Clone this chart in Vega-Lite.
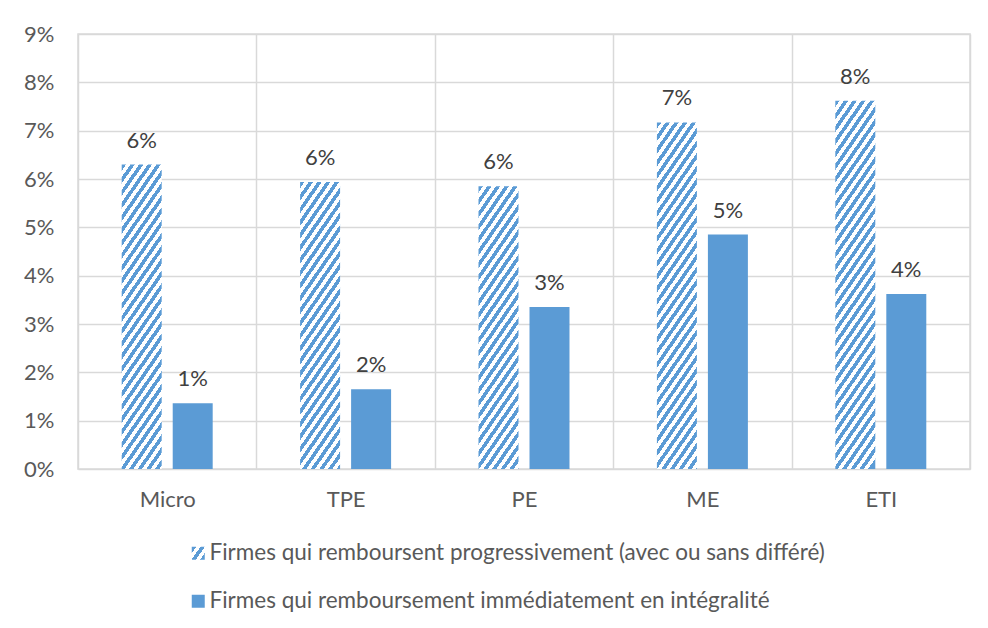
{
  "$schema": "https://vega.github.io/schema/vega-lite/v6.json",
  "width": 892,
  "height": 435,
  "autosize": {"type": "none"},
  "padding": {"left": 78, "top": 34, "right": 18, "bottom": 159},
  "background": "white",
  "data": {"values": [
    {"cat": "Micro", "serie": "Firmes qui remboursent progressivement (avec ou sans différé)", "value": 0.063},
    {"cat": "Micro", "serie": "Firmes qui remboursement immédiatement en intégralité", "value": 0.0136},
    {"cat": "TPE", "serie": "Firmes qui remboursent progressivement (avec ou sans différé)", "value": 0.0594},
    {"cat": "TPE", "serie": "Firmes qui remboursement immédiatement en intégralité", "value": 0.0165},
    {"cat": "PE", "serie": "Firmes qui remboursent progressivement (avec ou sans différé)", "value": 0.0585},
    {"cat": "PE", "serie": "Firmes qui remboursement immédiatement en intégralité", "value": 0.0335},
    {"cat": "ME", "serie": "Firmes qui remboursent progressivement (avec ou sans différé)", "value": 0.0717},
    {"cat": "ME", "serie": "Firmes qui remboursement immédiatement en intégralité", "value": 0.0485},
    {"cat": "ETI", "serie": "Firmes qui remboursent progressivement (avec ou sans différé)", "value": 0.0762},
    {"cat": "ETI", "serie": "Firmes qui remboursement immédiatement en intégralité", "value": 0.0362}
  ]},
  "encoding": {
    "x": {
      "field": "cat", "type": "nominal", "sort": ["Micro", "TPE", "PE", "ME", "ETI"],
      "scale": {"paddingInner": 0, "paddingOuter": 0},
      "axis": {"title": null, "labelAngle": 0, "ticks": false, "tickSize": 0, "domain": false, "grid": true, "tickBand": "extent", "gridColor": "#D9D9D9", "gridWidth": 1.5, "labelPadding": 20, "labelFontSize": 22, "labelColor": "#595959", "labelFont": "Lato"}
    },
    "xOffset": {
      "field": "serie", "type": "nominal",
      "scale": {"domain": ["Firmes qui remboursent progressivement (avec ou sans différé)", "Firmes qui remboursement immédiatement en intégralité"], "paddingInner": 0.216, "paddingOuter": 0.857}
    },
    "y": {
      "field": "value", "type": "quantitative",
      "scale": {"domain": [0, 0.09], "nice": false},
      "axis": {"title": null, "values": [0, 0.01, 0.02, 0.03, 0.04, 0.05, 0.06, 0.07, 0.08, 0.09], "format": ".0%", "ticks": false, "tickSize": 0, "domain": false, "grid": true, "gridColor": "#D9D9D9", "gridWidth": 1.5, "labelPadding": 24, "labelFontSize": 22, "labelColor": "#595959", "labelFont": "Lato"}
    }
  },
  "layer": [
    {
      "mark": {"type": "bar"},
      "encoding": {
        "fill": {
          "condition": [
            {"test": "datum.cat === 'Micro' && indexof(datum.serie, 'progressivement') >= 0", "value": {"gradient": "linear", "x1": 0, "y1": 0, "x2": 0.25353, "y2": 1.33103, "stops": [
{"offset":0,"color":"#5B9BD5"},{"offset":0.015,"color":"#5B9BD5"},{"offset":0.015,"color":"#FFFFFF"},{"offset":0.03,"color":"#FFFFFF"},{"offset":0.03,"color":"#5B9BD5"},{"offset":0.045,"color":"#5B9BD5"},{"offset":0.045,"color":"#FFFFFF"},{"offset":0.06,"color":"#FFFFFF"},{"offset":0.06,"color":"#5B9BD5"},{"offset":0.075,"color":"#5B9BD5"},{"offset":0.075,"color":"#FFFFFF"},{"offset":0.09,"color":"#FFFFFF"},{"offset":0.09,"color":"#5B9BD5"},{"offset":0.105,"color":"#5B9BD5"},{"offset":0.105,"color":"#FFFFFF"},{"offset":0.12,"color":"#FFFFFF"},{"offset":0.12,"color":"#5B9BD5"},{"offset":0.135,"color":"#5B9BD5"},{"offset":0.135,"color":"#FFFFFF"},{"offset":0.15,"color":"#FFFFFF"},{"offset":0.15,"color":"#5B9BD5"},{"offset":0.165,"color":"#5B9BD5"},{"offset":0.165,"color":"#FFFFFF"},{"offset":0.18,"color":"#FFFFFF"},{"offset":0.18,"color":"#5B9BD5"},{"offset":0.195,"color":"#5B9BD5"},{"offset":0.195,"color":"#FFFFFF"},{"offset":0.21,"color":"#FFFFFF"},{"offset":0.21,"color":"#5B9BD5"},{"offset":0.225,"color":"#5B9BD5"},{"offset":0.225,"color":"#FFFFFF"},{"offset":0.24,"color":"#FFFFFF"},{"offset":0.24,"color":"#5B9BD5"},{"offset":0.255,"color":"#5B9BD5"},{"offset":0.255,"color":"#FFFFFF"},{"offset":0.27,"color":"#FFFFFF"},{"offset":0.27,"color":"#5B9BD5"},{"offset":0.285,"color":"#5B9BD5"},{"offset":0.285,"color":"#FFFFFF"},{"offset":0.3,"color":"#FFFFFF"},{"offset":0.3,"color":"#5B9BD5"},{"offset":0.315,"color":"#5B9BD5"},{"offset":0.315,"color":"#FFFFFF"},{"offset":0.33,"color":"#FFFFFF"},{"offset":0.33,"color":"#5B9BD5"},{"offset":0.345,"color":"#5B9BD5"},{"offset":0.345,"color":"#FFFFFF"},{"offset":0.36,"color":"#FFFFFF"},{"offset":0.36,"color":"#5B9BD5"},{"offset":0.375,"color":"#5B9BD5"},{"offset":0.375,"color":"#FFFFFF"},{"offset":0.39,"color":"#FFFFFF"},{"offset":0.39,"color":"#5B9BD5"},{"offset":0.405,"color":"#5B9BD5"},{"offset":0.405,"color":"#FFFFFF"},{"offset":0.42,"color":"#FFFFFF"},{"offset":0.42,"color":"#5B9BD5"},{"offset":0.435,"color":"#5B9BD5"},{"offset":0.435,"color":"#FFFFFF"},{"offset":0.45,"color":"#FFFFFF"},{"offset":0.45,"color":"#5B9BD5"},{"offset":0.465,"color":"#5B9BD5"},{"offset":0.465,"color":"#FFFFFF"},{"offset":0.48,"color":"#FFFFFF"},{"offset":0.48,"color":"#5B9BD5"},{"offset":0.495,"color":"#5B9BD5"},{"offset":0.495,"color":"#FFFFFF"},{"offset":0.51,"color":"#FFFFFF"},{"offset":0.51,"color":"#5B9BD5"},{"offset":0.525,"color":"#5B9BD5"},{"offset":0.525,"color":"#FFFFFF"},{"offset":0.54,"color":"#FFFFFF"},{"offset":0.54,"color":"#5B9BD5"},{"offset":0.555,"color":"#5B9BD5"},{"offset":0.555,"color":"#FFFFFF"},{"offset":0.57,"color":"#FFFFFF"},{"offset":0.57,"color":"#5B9BD5"},{"offset":0.585,"color":"#5B9BD5"},{"offset":0.585,"color":"#FFFFFF"},{"offset":0.6,"color":"#FFFFFF"},{"offset":0.6,"color":"#5B9BD5"},{"offset":0.615,"color":"#5B9BD5"},{"offset":0.615,"color":"#FFFFFF"},{"offset":0.63,"color":"#FFFFFF"},{"offset":0.63,"color":"#5B9BD5"},{"offset":0.645,"color":"#5B9BD5"},{"offset":0.645,"color":"#FFFFFF"},{"offset":0.66,"color":"#FFFFFF"},{"offset":0.66,"color":"#5B9BD5"},{"offset":0.675,"color":"#5B9BD5"},{"offset":0.675,"color":"#FFFFFF"},{"offset":0.69,"color":"#FFFFFF"},{"offset":0.69,"color":"#5B9BD5"},{"offset":0.705,"color":"#5B9BD5"},{"offset":0.705,"color":"#FFFFFF"},{"offset":0.72,"color":"#FFFFFF"},{"offset":0.72,"color":"#5B9BD5"},{"offset":0.735,"color":"#5B9BD5"},{"offset":0.735,"color":"#FFFFFF"},{"offset":0.75,"color":"#FFFFFF"},{"offset":0.75,"color":"#5B9BD5"},{"offset":0.765,"color":"#5B9BD5"},{"offset":0.765,"color":"#FFFFFF"},{"offset":0.78,"color":"#FFFFFF"},{"offset":0.78,"color":"#5B9BD5"},{"offset":0.795,"color":"#5B9BD5"},{"offset":0.795,"color":"#FFFFFF"},{"offset":0.81,"color":"#FFFFFF"},{"offset":0.81,"color":"#5B9BD5"},{"offset":0.825,"color":"#5B9BD5"},{"offset":0.825,"color":"#FFFFFF"},{"offset":0.84,"color":"#FFFFFF"},{"offset":0.84,"color":"#5B9BD5"},{"offset":0.855,"color":"#5B9BD5"},{"offset":0.855,"color":"#FFFFFF"},{"offset":0.87,"color":"#FFFFFF"}
            ]}},
            {"test": "datum.cat === 'TPE' && indexof(datum.serie, 'progressivement') >= 0", "value": {"gradient": "linear", "x1": 0, "y1": 0, "x2": 0.28394, "y2": 1.40553, "stops": [
{"offset":0,"color":"#5B9BD5"},{"offset":0.015,"color":"#5B9BD5"},{"offset":0.015,"color":"#FFFFFF"},{"offset":0.03,"color":"#FFFFFF"},{"offset":0.03,"color":"#5B9BD5"},{"offset":0.045,"color":"#5B9BD5"},{"offset":0.045,"color":"#FFFFFF"},{"offset":0.06,"color":"#FFFFFF"},{"offset":0.06,"color":"#5B9BD5"},{"offset":0.075,"color":"#5B9BD5"},{"offset":0.075,"color":"#FFFFFF"},{"offset":0.09,"color":"#FFFFFF"},{"offset":0.09,"color":"#5B9BD5"},{"offset":0.105,"color":"#5B9BD5"},{"offset":0.105,"color":"#FFFFFF"},{"offset":0.12,"color":"#FFFFFF"},{"offset":0.12,"color":"#5B9BD5"},{"offset":0.135,"color":"#5B9BD5"},{"offset":0.135,"color":"#FFFFFF"},{"offset":0.15,"color":"#FFFFFF"},{"offset":0.15,"color":"#5B9BD5"},{"offset":0.165,"color":"#5B9BD5"},{"offset":0.165,"color":"#FFFFFF"},{"offset":0.18,"color":"#FFFFFF"},{"offset":0.18,"color":"#5B9BD5"},{"offset":0.195,"color":"#5B9BD5"},{"offset":0.195,"color":"#FFFFFF"},{"offset":0.21,"color":"#FFFFFF"},{"offset":0.21,"color":"#5B9BD5"},{"offset":0.225,"color":"#5B9BD5"},{"offset":0.225,"color":"#FFFFFF"},{"offset":0.24,"color":"#FFFFFF"},{"offset":0.24,"color":"#5B9BD5"},{"offset":0.255,"color":"#5B9BD5"},{"offset":0.255,"color":"#FFFFFF"},{"offset":0.27,"color":"#FFFFFF"},{"offset":0.27,"color":"#5B9BD5"},{"offset":0.285,"color":"#5B9BD5"},{"offset":0.285,"color":"#FFFFFF"},{"offset":0.3,"color":"#FFFFFF"},{"offset":0.3,"color":"#5B9BD5"},{"offset":0.315,"color":"#5B9BD5"},{"offset":0.315,"color":"#FFFFFF"},{"offset":0.33,"color":"#FFFFFF"},{"offset":0.33,"color":"#5B9BD5"},{"offset":0.345,"color":"#5B9BD5"},{"offset":0.345,"color":"#FFFFFF"},{"offset":0.36,"color":"#FFFFFF"},{"offset":0.36,"color":"#5B9BD5"},{"offset":0.375,"color":"#5B9BD5"},{"offset":0.375,"color":"#FFFFFF"},{"offset":0.39,"color":"#FFFFFF"},{"offset":0.39,"color":"#5B9BD5"},{"offset":0.405,"color":"#5B9BD5"},{"offset":0.405,"color":"#FFFFFF"},{"offset":0.42,"color":"#FFFFFF"},{"offset":0.42,"color":"#5B9BD5"},{"offset":0.435,"color":"#5B9BD5"},{"offset":0.435,"color":"#FFFFFF"},{"offset":0.45,"color":"#FFFFFF"},{"offset":0.45,"color":"#5B9BD5"},{"offset":0.465,"color":"#5B9BD5"},{"offset":0.465,"color":"#FFFFFF"},{"offset":0.48,"color":"#FFFFFF"},{"offset":0.48,"color":"#5B9BD5"},{"offset":0.495,"color":"#5B9BD5"},{"offset":0.495,"color":"#FFFFFF"},{"offset":0.51,"color":"#FFFFFF"},{"offset":0.51,"color":"#5B9BD5"},{"offset":0.525,"color":"#5B9BD5"},{"offset":0.525,"color":"#FFFFFF"},{"offset":0.54,"color":"#FFFFFF"},{"offset":0.54,"color":"#5B9BD5"},{"offset":0.555,"color":"#5B9BD5"},{"offset":0.555,"color":"#FFFFFF"},{"offset":0.57,"color":"#FFFFFF"},{"offset":0.57,"color":"#5B9BD5"},{"offset":0.585,"color":"#5B9BD5"},{"offset":0.585,"color":"#FFFFFF"},{"offset":0.6,"color":"#FFFFFF"},{"offset":0.6,"color":"#5B9BD5"},{"offset":0.615,"color":"#5B9BD5"},{"offset":0.615,"color":"#FFFFFF"},{"offset":0.63,"color":"#FFFFFF"},{"offset":0.63,"color":"#5B9BD5"},{"offset":0.645,"color":"#5B9BD5"},{"offset":0.645,"color":"#FFFFFF"},{"offset":0.66,"color":"#FFFFFF"},{"offset":0.66,"color":"#5B9BD5"},{"offset":0.675,"color":"#5B9BD5"},{"offset":0.675,"color":"#FFFFFF"},{"offset":0.69,"color":"#FFFFFF"},{"offset":0.69,"color":"#5B9BD5"},{"offset":0.705,"color":"#5B9BD5"},{"offset":0.705,"color":"#FFFFFF"},{"offset":0.72,"color":"#FFFFFF"},{"offset":0.72,"color":"#5B9BD5"},{"offset":0.735,"color":"#5B9BD5"},{"offset":0.735,"color":"#FFFFFF"},{"offset":0.75,"color":"#FFFFFF"},{"offset":0.75,"color":"#5B9BD5"},{"offset":0.765,"color":"#5B9BD5"},{"offset":0.765,"color":"#FFFFFF"},{"offset":0.78,"color":"#FFFFFF"},{"offset":0.78,"color":"#5B9BD5"},{"offset":0.795,"color":"#5B9BD5"},{"offset":0.795,"color":"#FFFFFF"},{"offset":0.81,"color":"#FFFFFF"},{"offset":0.81,"color":"#5B9BD5"},{"offset":0.825,"color":"#5B9BD5"}
            ]}},
            {"test": "datum.cat === 'PE' && indexof(datum.serie, 'progressivement') >= 0", "value": {"gradient": "linear", "x1": 0, "y1": 0, "x2": 0.2924, "y2": 1.42543, "stops": [
{"offset":0,"color":"#5B9BD5"},{"offset":0.015,"color":"#5B9BD5"},{"offset":0.015,"color":"#FFFFFF"},{"offset":0.03,"color":"#FFFFFF"},{"offset":0.03,"color":"#5B9BD5"},{"offset":0.045,"color":"#5B9BD5"},{"offset":0.045,"color":"#FFFFFF"},{"offset":0.06,"color":"#FFFFFF"},{"offset":0.06,"color":"#5B9BD5"},{"offset":0.075,"color":"#5B9BD5"},{"offset":0.075,"color":"#FFFFFF"},{"offset":0.09,"color":"#FFFFFF"},{"offset":0.09,"color":"#5B9BD5"},{"offset":0.105,"color":"#5B9BD5"},{"offset":0.105,"color":"#FFFFFF"},{"offset":0.12,"color":"#FFFFFF"},{"offset":0.12,"color":"#5B9BD5"},{"offset":0.135,"color":"#5B9BD5"},{"offset":0.135,"color":"#FFFFFF"},{"offset":0.15,"color":"#FFFFFF"},{"offset":0.15,"color":"#5B9BD5"},{"offset":0.165,"color":"#5B9BD5"},{"offset":0.165,"color":"#FFFFFF"},{"offset":0.18,"color":"#FFFFFF"},{"offset":0.18,"color":"#5B9BD5"},{"offset":0.195,"color":"#5B9BD5"},{"offset":0.195,"color":"#FFFFFF"},{"offset":0.21,"color":"#FFFFFF"},{"offset":0.21,"color":"#5B9BD5"},{"offset":0.225,"color":"#5B9BD5"},{"offset":0.225,"color":"#FFFFFF"},{"offset":0.24,"color":"#FFFFFF"},{"offset":0.24,"color":"#5B9BD5"},{"offset":0.255,"color":"#5B9BD5"},{"offset":0.255,"color":"#FFFFFF"},{"offset":0.27,"color":"#FFFFFF"},{"offset":0.27,"color":"#5B9BD5"},{"offset":0.285,"color":"#5B9BD5"},{"offset":0.285,"color":"#FFFFFF"},{"offset":0.3,"color":"#FFFFFF"},{"offset":0.3,"color":"#5B9BD5"},{"offset":0.315,"color":"#5B9BD5"},{"offset":0.315,"color":"#FFFFFF"},{"offset":0.33,"color":"#FFFFFF"},{"offset":0.33,"color":"#5B9BD5"},{"offset":0.345,"color":"#5B9BD5"},{"offset":0.345,"color":"#FFFFFF"},{"offset":0.36,"color":"#FFFFFF"},{"offset":0.36,"color":"#5B9BD5"},{"offset":0.375,"color":"#5B9BD5"},{"offset":0.375,"color":"#FFFFFF"},{"offset":0.39,"color":"#FFFFFF"},{"offset":0.39,"color":"#5B9BD5"},{"offset":0.405,"color":"#5B9BD5"},{"offset":0.405,"color":"#FFFFFF"},{"offset":0.42,"color":"#FFFFFF"},{"offset":0.42,"color":"#5B9BD5"},{"offset":0.435,"color":"#5B9BD5"},{"offset":0.435,"color":"#FFFFFF"},{"offset":0.45,"color":"#FFFFFF"},{"offset":0.45,"color":"#5B9BD5"},{"offset":0.465,"color":"#5B9BD5"},{"offset":0.465,"color":"#FFFFFF"},{"offset":0.48,"color":"#FFFFFF"},{"offset":0.48,"color":"#5B9BD5"},{"offset":0.495,"color":"#5B9BD5"},{"offset":0.495,"color":"#FFFFFF"},{"offset":0.51,"color":"#FFFFFF"},{"offset":0.51,"color":"#5B9BD5"},{"offset":0.525,"color":"#5B9BD5"},{"offset":0.525,"color":"#FFFFFF"},{"offset":0.54,"color":"#FFFFFF"},{"offset":0.54,"color":"#5B9BD5"},{"offset":0.555,"color":"#5B9BD5"},{"offset":0.555,"color":"#FFFFFF"},{"offset":0.57,"color":"#FFFFFF"},{"offset":0.57,"color":"#5B9BD5"},{"offset":0.585,"color":"#5B9BD5"},{"offset":0.585,"color":"#FFFFFF"},{"offset":0.6,"color":"#FFFFFF"},{"offset":0.6,"color":"#5B9BD5"},{"offset":0.615,"color":"#5B9BD5"},{"offset":0.615,"color":"#FFFFFF"},{"offset":0.63,"color":"#FFFFFF"},{"offset":0.63,"color":"#5B9BD5"},{"offset":0.645,"color":"#5B9BD5"},{"offset":0.645,"color":"#FFFFFF"},{"offset":0.66,"color":"#FFFFFF"},{"offset":0.66,"color":"#5B9BD5"},{"offset":0.675,"color":"#5B9BD5"},{"offset":0.675,"color":"#FFFFFF"},{"offset":0.69,"color":"#FFFFFF"},{"offset":0.69,"color":"#5B9BD5"},{"offset":0.705,"color":"#5B9BD5"},{"offset":0.705,"color":"#FFFFFF"},{"offset":0.72,"color":"#FFFFFF"},{"offset":0.72,"color":"#5B9BD5"},{"offset":0.735,"color":"#5B9BD5"},{"offset":0.735,"color":"#FFFFFF"},{"offset":0.75,"color":"#FFFFFF"},{"offset":0.75,"color":"#5B9BD5"},{"offset":0.765,"color":"#5B9BD5"},{"offset":0.765,"color":"#FFFFFF"},{"offset":0.78,"color":"#FFFFFF"},{"offset":0.78,"color":"#5B9BD5"},{"offset":0.795,"color":"#5B9BD5"},{"offset":0.795,"color":"#FFFFFF"},{"offset":0.81,"color":"#FFFFFF"},{"offset":0.81,"color":"#5B9BD5"},{"offset":0.825,"color":"#5B9BD5"}
            ]}},
            {"test": "datum.cat === 'ME' && indexof(datum.serie, 'progressivement') >= 0", "value": {"gradient": "linear", "x1": 0, "y1": 0, "x2": 0.19731, "y2": 1.17893, "stops": [
{"offset":0,"color":"#5B9BD5"},{"offset":0.015,"color":"#5B9BD5"},{"offset":0.015,"color":"#FFFFFF"},{"offset":0.03,"color":"#FFFFFF"},{"offset":0.03,"color":"#5B9BD5"},{"offset":0.045,"color":"#5B9BD5"},{"offset":0.045,"color":"#FFFFFF"},{"offset":0.06,"color":"#FFFFFF"},{"offset":0.06,"color":"#5B9BD5"},{"offset":0.075,"color":"#5B9BD5"},{"offset":0.075,"color":"#FFFFFF"},{"offset":0.09,"color":"#FFFFFF"},{"offset":0.09,"color":"#5B9BD5"},{"offset":0.105,"color":"#5B9BD5"},{"offset":0.105,"color":"#FFFFFF"},{"offset":0.12,"color":"#FFFFFF"},{"offset":0.12,"color":"#5B9BD5"},{"offset":0.135,"color":"#5B9BD5"},{"offset":0.135,"color":"#FFFFFF"},{"offset":0.15,"color":"#FFFFFF"},{"offset":0.15,"color":"#5B9BD5"},{"offset":0.165,"color":"#5B9BD5"},{"offset":0.165,"color":"#FFFFFF"},{"offset":0.18,"color":"#FFFFFF"},{"offset":0.18,"color":"#5B9BD5"},{"offset":0.195,"color":"#5B9BD5"},{"offset":0.195,"color":"#FFFFFF"},{"offset":0.21,"color":"#FFFFFF"},{"offset":0.21,"color":"#5B9BD5"},{"offset":0.225,"color":"#5B9BD5"},{"offset":0.225,"color":"#FFFFFF"},{"offset":0.24,"color":"#FFFFFF"},{"offset":0.24,"color":"#5B9BD5"},{"offset":0.255,"color":"#5B9BD5"},{"offset":0.255,"color":"#FFFFFF"},{"offset":0.27,"color":"#FFFFFF"},{"offset":0.27,"color":"#5B9BD5"},{"offset":0.285,"color":"#5B9BD5"},{"offset":0.285,"color":"#FFFFFF"},{"offset":0.3,"color":"#FFFFFF"},{"offset":0.3,"color":"#5B9BD5"},{"offset":0.315,"color":"#5B9BD5"},{"offset":0.315,"color":"#FFFFFF"},{"offset":0.33,"color":"#FFFFFF"},{"offset":0.33,"color":"#5B9BD5"},{"offset":0.345,"color":"#5B9BD5"},{"offset":0.345,"color":"#FFFFFF"},{"offset":0.36,"color":"#FFFFFF"},{"offset":0.36,"color":"#5B9BD5"},{"offset":0.375,"color":"#5B9BD5"},{"offset":0.375,"color":"#FFFFFF"},{"offset":0.39,"color":"#FFFFFF"},{"offset":0.39,"color":"#5B9BD5"},{"offset":0.405,"color":"#5B9BD5"},{"offset":0.405,"color":"#FFFFFF"},{"offset":0.42,"color":"#FFFFFF"},{"offset":0.42,"color":"#5B9BD5"},{"offset":0.435,"color":"#5B9BD5"},{"offset":0.435,"color":"#FFFFFF"},{"offset":0.45,"color":"#FFFFFF"},{"offset":0.45,"color":"#5B9BD5"},{"offset":0.465,"color":"#5B9BD5"},{"offset":0.465,"color":"#FFFFFF"},{"offset":0.48,"color":"#FFFFFF"},{"offset":0.48,"color":"#5B9BD5"},{"offset":0.495,"color":"#5B9BD5"},{"offset":0.495,"color":"#FFFFFF"},{"offset":0.51,"color":"#FFFFFF"},{"offset":0.51,"color":"#5B9BD5"},{"offset":0.525,"color":"#5B9BD5"},{"offset":0.525,"color":"#FFFFFF"},{"offset":0.54,"color":"#FFFFFF"},{"offset":0.54,"color":"#5B9BD5"},{"offset":0.555,"color":"#5B9BD5"},{"offset":0.555,"color":"#FFFFFF"},{"offset":0.57,"color":"#FFFFFF"},{"offset":0.57,"color":"#5B9BD5"},{"offset":0.585,"color":"#5B9BD5"},{"offset":0.585,"color":"#FFFFFF"},{"offset":0.6,"color":"#FFFFFF"},{"offset":0.6,"color":"#5B9BD5"},{"offset":0.615,"color":"#5B9BD5"},{"offset":0.615,"color":"#FFFFFF"},{"offset":0.63,"color":"#FFFFFF"},{"offset":0.63,"color":"#5B9BD5"},{"offset":0.645,"color":"#5B9BD5"},{"offset":0.645,"color":"#FFFFFF"},{"offset":0.66,"color":"#FFFFFF"},{"offset":0.66,"color":"#5B9BD5"},{"offset":0.675,"color":"#5B9BD5"},{"offset":0.675,"color":"#FFFFFF"},{"offset":0.69,"color":"#FFFFFF"},{"offset":0.69,"color":"#5B9BD5"},{"offset":0.705,"color":"#5B9BD5"},{"offset":0.705,"color":"#FFFFFF"},{"offset":0.72,"color":"#FFFFFF"},{"offset":0.72,"color":"#5B9BD5"},{"offset":0.735,"color":"#5B9BD5"},{"offset":0.735,"color":"#FFFFFF"},{"offset":0.75,"color":"#FFFFFF"},{"offset":0.75,"color":"#5B9BD5"},{"offset":0.765,"color":"#5B9BD5"},{"offset":0.765,"color":"#FFFFFF"},{"offset":0.78,"color":"#FFFFFF"},{"offset":0.78,"color":"#5B9BD5"},{"offset":0.795,"color":"#5B9BD5"},{"offset":0.795,"color":"#FFFFFF"},{"offset":0.81,"color":"#FFFFFF"},{"offset":0.81,"color":"#5B9BD5"},{"offset":0.825,"color":"#5B9BD5"},{"offset":0.825,"color":"#FFFFFF"},{"offset":0.84,"color":"#FFFFFF"},{"offset":0.84,"color":"#5B9BD5"},{"offset":0.855,"color":"#5B9BD5"},{"offset":0.855,"color":"#FFFFFF"},{"offset":0.87,"color":"#FFFFFF"},{"offset":0.87,"color":"#5B9BD5"},{"offset":0.885,"color":"#5B9BD5"},{"offset":0.885,"color":"#FFFFFF"},{"offset":0.9,"color":"#FFFFFF"},{"offset":0.9,"color":"#5B9BD5"},{"offset":0.915,"color":"#5B9BD5"},{"offset":0.915,"color":"#FFFFFF"},{"offset":0.93,"color":"#FFFFFF"},{"offset":0.93,"color":"#5B9BD5"},{"offset":0.945,"color":"#5B9BD5"},{"offset":0.945,"color":"#FFFFFF"},{"offset":0.96,"color":"#FFFFFF"},{"offset":0.96,"color":"#5B9BD5"},{"offset":0.975,"color":"#5B9BD5"}
            ]}},
            {"test": "datum.cat === 'ETI' && indexof(datum.serie, 'progressivement') >= 0", "value": {"gradient": "linear", "x1": 0, "y1": 0, "x2": 0.17524, "y2": 1.11278, "stops": [
{"offset":0,"color":"#5B9BD5"},{"offset":0.015,"color":"#5B9BD5"},{"offset":0.015,"color":"#FFFFFF"},{"offset":0.03,"color":"#FFFFFF"},{"offset":0.03,"color":"#5B9BD5"},{"offset":0.045,"color":"#5B9BD5"},{"offset":0.045,"color":"#FFFFFF"},{"offset":0.06,"color":"#FFFFFF"},{"offset":0.06,"color":"#5B9BD5"},{"offset":0.075,"color":"#5B9BD5"},{"offset":0.075,"color":"#FFFFFF"},{"offset":0.09,"color":"#FFFFFF"},{"offset":0.09,"color":"#5B9BD5"},{"offset":0.105,"color":"#5B9BD5"},{"offset":0.105,"color":"#FFFFFF"},{"offset":0.12,"color":"#FFFFFF"},{"offset":0.12,"color":"#5B9BD5"},{"offset":0.135,"color":"#5B9BD5"},{"offset":0.135,"color":"#FFFFFF"},{"offset":0.15,"color":"#FFFFFF"},{"offset":0.15,"color":"#5B9BD5"},{"offset":0.165,"color":"#5B9BD5"},{"offset":0.165,"color":"#FFFFFF"},{"offset":0.18,"color":"#FFFFFF"},{"offset":0.18,"color":"#5B9BD5"},{"offset":0.195,"color":"#5B9BD5"},{"offset":0.195,"color":"#FFFFFF"},{"offset":0.21,"color":"#FFFFFF"},{"offset":0.21,"color":"#5B9BD5"},{"offset":0.225,"color":"#5B9BD5"},{"offset":0.225,"color":"#FFFFFF"},{"offset":0.24,"color":"#FFFFFF"},{"offset":0.24,"color":"#5B9BD5"},{"offset":0.255,"color":"#5B9BD5"},{"offset":0.255,"color":"#FFFFFF"},{"offset":0.27,"color":"#FFFFFF"},{"offset":0.27,"color":"#5B9BD5"},{"offset":0.285,"color":"#5B9BD5"},{"offset":0.285,"color":"#FFFFFF"},{"offset":0.3,"color":"#FFFFFF"},{"offset":0.3,"color":"#5B9BD5"},{"offset":0.315,"color":"#5B9BD5"},{"offset":0.315,"color":"#FFFFFF"},{"offset":0.33,"color":"#FFFFFF"},{"offset":0.33,"color":"#5B9BD5"},{"offset":0.345,"color":"#5B9BD5"},{"offset":0.345,"color":"#FFFFFF"},{"offset":0.36,"color":"#FFFFFF"},{"offset":0.36,"color":"#5B9BD5"},{"offset":0.375,"color":"#5B9BD5"},{"offset":0.375,"color":"#FFFFFF"},{"offset":0.39,"color":"#FFFFFF"},{"offset":0.39,"color":"#5B9BD5"},{"offset":0.405,"color":"#5B9BD5"},{"offset":0.405,"color":"#FFFFFF"},{"offset":0.42,"color":"#FFFFFF"},{"offset":0.42,"color":"#5B9BD5"},{"offset":0.435,"color":"#5B9BD5"},{"offset":0.435,"color":"#FFFFFF"},{"offset":0.45,"color":"#FFFFFF"},{"offset":0.45,"color":"#5B9BD5"},{"offset":0.465,"color":"#5B9BD5"},{"offset":0.465,"color":"#FFFFFF"},{"offset":0.48,"color":"#FFFFFF"},{"offset":0.48,"color":"#5B9BD5"},{"offset":0.495,"color":"#5B9BD5"},{"offset":0.495,"color":"#FFFFFF"},{"offset":0.51,"color":"#FFFFFF"},{"offset":0.51,"color":"#5B9BD5"},{"offset":0.525,"color":"#5B9BD5"},{"offset":0.525,"color":"#FFFFFF"},{"offset":0.54,"color":"#FFFFFF"},{"offset":0.54,"color":"#5B9BD5"},{"offset":0.555,"color":"#5B9BD5"},{"offset":0.555,"color":"#FFFFFF"},{"offset":0.57,"color":"#FFFFFF"},{"offset":0.57,"color":"#5B9BD5"},{"offset":0.585,"color":"#5B9BD5"},{"offset":0.585,"color":"#FFFFFF"},{"offset":0.6,"color":"#FFFFFF"},{"offset":0.6,"color":"#5B9BD5"},{"offset":0.615,"color":"#5B9BD5"},{"offset":0.615,"color":"#FFFFFF"},{"offset":0.63,"color":"#FFFFFF"},{"offset":0.63,"color":"#5B9BD5"},{"offset":0.645,"color":"#5B9BD5"},{"offset":0.645,"color":"#FFFFFF"},{"offset":0.66,"color":"#FFFFFF"},{"offset":0.66,"color":"#5B9BD5"},{"offset":0.675,"color":"#5B9BD5"},{"offset":0.675,"color":"#FFFFFF"},{"offset":0.69,"color":"#FFFFFF"},{"offset":0.69,"color":"#5B9BD5"},{"offset":0.705,"color":"#5B9BD5"},{"offset":0.705,"color":"#FFFFFF"},{"offset":0.72,"color":"#FFFFFF"},{"offset":0.72,"color":"#5B9BD5"},{"offset":0.735,"color":"#5B9BD5"},{"offset":0.735,"color":"#FFFFFF"},{"offset":0.75,"color":"#FFFFFF"},{"offset":0.75,"color":"#5B9BD5"},{"offset":0.765,"color":"#5B9BD5"},{"offset":0.765,"color":"#FFFFFF"},{"offset":0.78,"color":"#FFFFFF"},{"offset":0.78,"color":"#5B9BD5"},{"offset":0.795,"color":"#5B9BD5"},{"offset":0.795,"color":"#FFFFFF"},{"offset":0.81,"color":"#FFFFFF"},{"offset":0.81,"color":"#5B9BD5"},{"offset":0.825,"color":"#5B9BD5"},{"offset":0.825,"color":"#FFFFFF"},{"offset":0.84,"color":"#FFFFFF"},{"offset":0.84,"color":"#5B9BD5"},{"offset":0.855,"color":"#5B9BD5"},{"offset":0.855,"color":"#FFFFFF"},{"offset":0.87,"color":"#FFFFFF"},{"offset":0.87,"color":"#5B9BD5"},{"offset":0.885,"color":"#5B9BD5"},{"offset":0.885,"color":"#FFFFFF"},{"offset":0.9,"color":"#FFFFFF"},{"offset":0.9,"color":"#5B9BD5"},{"offset":0.915,"color":"#5B9BD5"},{"offset":0.915,"color":"#FFFFFF"},{"offset":0.93,"color":"#FFFFFF"},{"offset":0.93,"color":"#5B9BD5"},{"offset":0.945,"color":"#5B9BD5"},{"offset":0.945,"color":"#FFFFFF"},{"offset":0.96,"color":"#FFFFFF"},{"offset":0.96,"color":"#5B9BD5"},{"offset":0.975,"color":"#5B9BD5"},{"offset":0.975,"color":"#FFFFFF"},{"offset":0.99,"color":"#FFFFFF"},{"offset":0.99,"color":"#5B9BD5"},{"offset":1,"color":"#5B9BD5"}
            ]}}
          ],
          "value": "#5B9BD5"
        }
      }
    },
    {
      "mark": {"type": "text", "baseline": "alphabetic", "dy": -17, "fontSize": 22, "font": "Lato", "color": "#404040"},
      "encoding": {
        "text": {"field": "value", "type": "quantitative", "format": ".0%"}
      }
    },
    {
      "transform": [{"filter": "false"}],
      "mark": {"type": "bar"},
      "encoding": {
        "color": {
          "field": "serie", "type": "nominal",
          "scale": {
            "domain": ["Firmes qui remboursent progressivement (avec ou sans différé)", "Firmes qui remboursement immédiatement en intégralité"],
            "range": [
              {"expr": "{gradient: 'linear', x1: 0, y1: 0, x2: 15.1, y2: 10.414, stops: [{offset: 0, color: '#5B9BD5'}, {offset: 0.015, color: '#5B9BD5'}, {offset: 0.015, color: '#FFFFFF'}, {offset: 0.03, color: '#FFFFFF'}, {offset: 0.03, color: '#5B9BD5'}, {offset: 0.045, color: '#5B9BD5'}, {offset: 0.045, color: '#FFFFFF'}, {offset: 0.06, color: '#FFFFFF'}, {offset: 0.06, color: '#5B9BD5'}, {offset: 0.08, color: '#5B9BD5'}]}"},
              "#5B9BD5"
            ]
          },
          "legend": {
            "title": null, "orient": "none", "legendX": 109, "legendY": 508, "direction": "vertical",
            "symbolType": "square", "symbolSize": 169, "symbolStrokeWidth": 0, "symbolOpacity": 1,
            "labelFontSize": 22.5, "labelColor": "#595959", "labelFont": "Lato", "labelLimit": 900, "labelOffset": 0, "rowPadding": 25
          }
        }
      }
    }
  ],
  "config": {
    "font": "Lato",
    "view": {"stroke": "#D9D9D9", "strokeWidth": 1.5}
  }
}
